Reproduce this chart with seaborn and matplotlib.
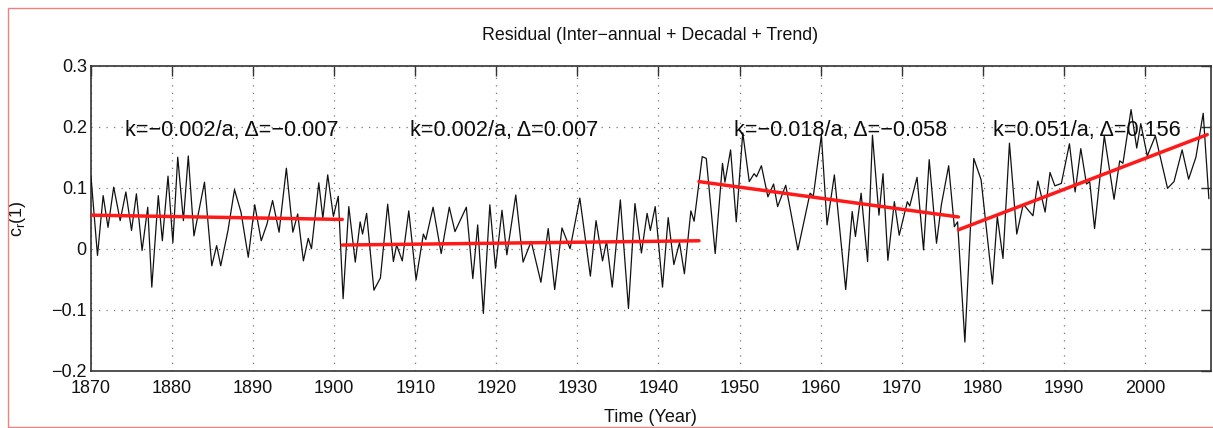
import matplotlib
matplotlib.use("Agg")
import matplotlib.pyplot as plt
from matplotlib import font_manager
from matplotlib.patches import Rectangle
import numpy as np
import pandas as pd
import seaborn as sns

# ---- residual series: years and values of the smoothed curve ----
years = [
    1870.0, 1870.8, 1871.5, 1872.1, 1872.8, 1873.6, 1874.3, 1875.0, 1875.6, 1876.3,
    1877.0, 1877.5, 1878.3, 1878.8, 1879.5, 1880.1, 1880.7, 1881.4, 1882.0, 1882.7,
    1884.0, 1884.9, 1885.5, 1886.0, 1886.9, 1887.7, 1888.5, 1889.4, 1890.2, 1891.0,
    1891.7, 1892.4, 1893.2, 1894.1, 1894.9, 1895.5, 1896.2, 1896.8, 1897.2, 1898.1,
    1898.6, 1899.2, 1899.9, 1900.5, 1901.1, 1901.8, 1902.6, 1903.2, 1903.5, 1904.0,
    1904.9, 1905.7, 1906.6, 1907.3, 1907.7, 1908.4, 1909.2, 1910.1, 1911.0, 1911.3,
    1912.2, 1913.2, 1914.2, 1914.9, 1916.3, 1917.1, 1917.7, 1918.4, 1919.2, 1919.9,
    1920.7, 1921.3, 1922.4, 1923.3, 1924.3, 1925.5, 1926.4, 1927.2, 1928.1, 1929.1,
    1930.3, 1931.6, 1932.3, 1933.1, 1933.6, 1934.3, 1935.3, 1936.3, 1937.1, 1937.9,
    1938.6, 1939.0, 1939.6, 1940.5, 1941.2, 1941.9, 1942.6, 1943.2, 1944.0, 1944.4,
    1945.4, 1945.9, 1947.0, 1947.9, 1948.2, 1948.9, 1949.6, 1950.4, 1951.2, 1951.8,
    1952.1, 1952.7, 1953.5, 1954.2, 1954.7, 1955.7, 1957.2, 1958.7, 1959.1, 1960.1,
    1960.8, 1961.7, 1963.1, 1963.9, 1964.3, 1965.0, 1965.8, 1966.4, 1967.2, 1967.7,
    1968.3, 1969.1, 1969.7, 1970.7, 1971.0, 1971.9, 1972.7, 1973.4, 1974.3, 1974.9,
    1975.8, 1976.5, 1976.9, 1977.8, 1978.9, 1979.8, 1981.2, 1981.8, 1982.5, 1983.3,
    1984.2, 1985.0, 1986.2, 1986.8, 1987.7, 1988.3, 1988.9, 1989.7, 1990.7, 1991.4,
    1992.1, 1992.8, 1993.2, 1993.8, 1995.0, 1996.2, 1996.9, 1997.3, 1998.3, 1999.0,
    1999.5, 2000.3, 2001.3, 2002.8, 2003.6, 2004.6, 2005.4, 2006.3, 2007.2, 2007.9,
]
residual = [
    0.118, -0.011, 0.087, 0.035, 0.101, 0.046, 0.093, 0.030, 0.090, -0.003,
    0.068, -0.063, 0.087, 0.013, 0.119, 0.010, 0.150, 0.046, 0.152, 0.021,
    0.109, -0.028, 0.005, -0.028, 0.030, 0.097, 0.060, -0.014, 0.072, 0.013,
    0.040, 0.079, 0.027, 0.132, 0.027, 0.057, -0.020, 0.017, 0.000, 0.108,
    0.050, 0.121, 0.053, 0.086, -0.082, 0.069, -0.022, 0.044, 0.024, 0.058,
    -0.068, -0.048, 0.073, -0.021, 0.006, -0.020, 0.062, -0.051, 0.024, 0.015,
    0.068, -0.008, 0.068, 0.028, 0.068, -0.049, 0.039, -0.106, 0.072, -0.032,
    0.063, -0.010, 0.088, -0.022, 0.012, -0.055, 0.033, -0.067, 0.034, 0.000,
    0.083, -0.045, 0.046, -0.020, 0.012, -0.063, 0.080, -0.098, 0.074, -0.007,
    0.058, 0.030, 0.069, -0.063, 0.051, -0.026, 0.010, -0.041, 0.062, 0.045,
    0.151, 0.148, -0.008, 0.140, 0.109, 0.162, 0.044, 0.190, 0.110, 0.123,
    0.118, 0.136, 0.085, 0.106, 0.069, 0.104, -0.002, 0.091, 0.086, 0.186,
    0.039, 0.121, -0.067, 0.061, 0.020, 0.091, -0.021, 0.186, 0.055, 0.123,
    -0.019, 0.077, 0.022, 0.077, 0.070, 0.117, -0.002, 0.146, 0.009, 0.072,
    0.136, 0.036, 0.044, -0.153, 0.148, 0.113, -0.058, 0.053, -0.016, 0.173,
    0.024, 0.073, 0.054, 0.111, 0.060, 0.125, 0.103, 0.107, 0.172, 0.093,
    0.164, 0.106, 0.110, 0.033, 0.185, 0.081, 0.144, 0.140, 0.228, 0.165,
    0.205, 0.152, 0.185, 0.099, 0.110, 0.162, 0.114, 0.150, 0.222, 0.082,
]

# ---- piecewise linear trends ----
seg_start = [1870.0, 1901.0, 1945.0, 1977.0]
seg_end = [1901.0, 1945.0, 1977.0, 2007.7]
seg_level = [0.055, 0.006, 0.110, 0.031]        # trend value at segment start
seg_k = ["\u22120.002", "0.002", "\u22120.018", "0.051"]
seg_delta = [-0.007, 0.007, -0.058, 0.156]       # change over the segment
label_x = [1874.2, 1909.4, 1949.3, 1981.3]

x_ticks = [1870, 1880, 1890, 1900, 1910, 1920, 1930, 1940, 1950, 1960, 1970, 1980, 1990, 2000]
y_ticks = [-0.2, -0.1, 0.0, 0.1, 0.2, 0.3]
y_tick_labels = ["\u22120.2", "\u22120.1", "0", "0.1", "0.2", "0.3"]

title_text = "Residual (Inter\u2212annual + Decadal + Trend)"
x_label = "Time (Year)"
y_label = "c$_\\mathregular{r}$(1)"

# ---- style ----
sns.set_style("white")
available = {f.name for f in font_manager.fontManager.ttflist}
if "Liberation Sans Narrow" in available:
    family, scale = "Liberation Sans Narrow", 1.2
else:
    family, scale = "Liberation Sans", 1.0
plt.rcParams["font.family"] = [family, "DejaVu Sans"]
plt.rcParams["mathtext.fontset"] = "custom"
plt.rcParams["mathtext.rm"] = family

W, H = 1213, 428
fig = plt.figure(figsize=(W / 100, H / 100), dpi=100)
fig.patch.set_facecolor("white")

left_px, right_px, top_px, bottom_px = 91, 1210.5, 65.7, 370.7
ax = fig.add_axes([left_px / W, 1 - bottom_px / H,
                   (right_px - left_px) / W, (bottom_px - top_px) / H])

series = pd.DataFrame({"year": years, "residual": residual})
sns.lineplot(data=series, x="year", y="residual", ax=ax, color="#111111",
             linewidth=0.9, estimator=None, sort=False, zorder=3)
for ln in ax.get_lines():
    ln.set_solid_joinstyle("round")

for x0, x1, v0, d in zip(seg_start, seg_end, seg_level, seg_delta):
    seg = pd.DataFrame({"year": [x0, x1], "trend": [v0, v0 + d]})
    sns.lineplot(data=seg, x="year", y="trend", ax=ax, color="#ff1a1a",
                 linewidth=2.5, estimator=None, sort=False, zorder=4)

for xl, k, d in zip(label_x, seg_k, seg_delta):
    dtxt = f"{d:.3f}".replace("-", "\u2212")
    ax.text(xl, 0.184, f"k={k}/a, \u0394={dtxt}", fontsize=15.6 * scale,
            color="#0d0d0d", ha="left", va="baseline", zorder=5)

ax.set_xlim(1870, 2008.1)
ax.set_ylim(-0.2, 0.3)
ax.set_xticks(x_ticks)
ax.set_xticklabels([str(t) for t in x_ticks])
ax.set_yticks(y_ticks)
ax.set_yticklabels(y_tick_labels)
ax.tick_params(direction="in", top=True, right=True, length=7, width=1.0,
               color="#333333", labelsize=13 * scale, labelcolor="#111111")
ax.tick_params(axis="x", pad=7)
ax.tick_params(axis="y", pad=3)
ax.grid(True, linestyle=(0, (1, 5)), color="#777777", linewidth=0.9)
for sp in ax.spines.values():
    sp.set_color("#333333")
    sp.set_linewidth(1.2)

ax.set_xlabel(x_label, fontsize=13 * scale, color="#111111", labelpad=8)
ax.set_ylabel(y_label, fontsize=13 * scale, color="#111111")
ax.yaxis.set_label_coords((28 - left_px) / (right_px - left_px), 0.5)

fig.text(650 / W, 1 - 36 / H, title_text, ha="center", va="center",
         fontsize=12.8 * scale, color="#111111")

# thin outer frame
fig.patches.append(Rectangle((8 / W, 1 / H), 1.2, (427 - 8) / H,
                             transform=fig.transFigure, fill=False,
                             edgecolor="#f07f7f", linewidth=1.0, zorder=10))

fig.savefig("out.png", dpi=100, facecolor="white")
